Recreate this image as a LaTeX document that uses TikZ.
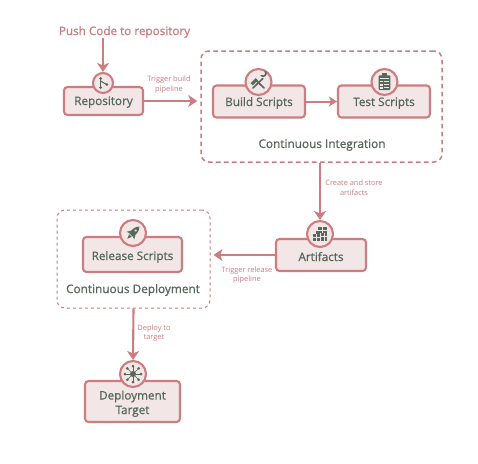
\documentclass[tikz,border=0pt]{standalone}
\usepackage{fontspec}
\setmainfont{Open Sans}
\newfontfamily\medf[FakeBold=0.8]{Open Sans}
\usetikzlibrary{arrows.meta,calc}
\definecolor{rosel}{HTML}{CB7D81}
\definecolor{rosef}{HTML}{F3E6E6}
\definecolor{greent}{HTML}{55685A}
\tikzset{
  x=1pt,y=-1pt,
  card/.style={draw=rosel,line width=2.1pt,fill=rosef,rounded corners=3.5pt,text=greent,align=center,inner sep=0pt,text height=8pt,text depth=0pt,font=\medf\fontsize{11.7}{14.5}\selectfont},
  badge/.style={circle,draw=rosel,line width=2.1pt,fill=rosef,inner sep=0pt},
  groupa/.style={draw=rosel,line width=1.5pt,dash pattern=on 4.6pt off 3.4pt,rounded corners=8pt,inner sep=0pt},
  groupb/.style={draw=rosel,line width=1pt,dash pattern=on 3pt off 3pt,rounded corners=8pt,inner sep=0pt},
  flow/.style={draw=rosel,line width=2.1pt,-{Stealth[length=9pt,width=12pt,inset=2.5pt]}},
  flowsmall/.style={draw=rosel,line width=2pt,-{Stealth[length=8pt,width=10pt,inset=2pt]}},
  note/.style={text=rosel,align=center,inner sep=0pt,font=\fontsize{7.4}{9.6}\selectfont},
  title/.style={text=greent,inner sep=0pt,font=\medf\fontsize{11.8}{14}\selectfont},
  icol/.style={draw=greent,line width=1pt,line cap=round},
  icow/.style={draw=rosef,line width=0.5pt},
}
\begin{document}
\begin{tikzpicture}
\useasboundingbox[fill=white] (0,0) rectangle (478,463);
% groups
\node[groupa,minimum width=241pt,minimum height=111pt] (ci) at (321.5,106.5) {};
\node[groupb,minimum width=153pt,minimum height=98pt] (cd) at (133.5,259) {};
% text
\node[text=rosel,inner sep=0pt,font=\medf\fontsize{11.7}{14}\selectfont] (push) at (124.5,32) {Push Code to repository};
\node[title] (citext) at (322,145) {Continuous Integration};
\node[title] (cdtext) at (133,290) {Continuous Deployment};
% cards
\node[card,minimum width=79pt,minimum height=28pt] (repo) at (103.5,101) {Repository};
\node[card,text height=9pt,minimum width=92pt,minimum height=32pt] (build) at (259,101.5) {Build Scripts};
\node[card,text height=9pt,minimum width=92pt,minimum height=32pt] (test) at (384,101.5) {Test Scripts};
\node[card,text height=12pt,minimum width=90pt,minimum height=32pt] (art) at (321,255) {Artifacts};
\node[card,text height=11pt,minimum width=99pt,minimum height=35pt] (rel) at (132.5,254.5) {Release Scripts};
\node[card,text height=25pt,minimum width=95pt,minimum height=41pt] (dep) at (132.5,401.5) {Deployment\\Target};
% badges in front of cards
\node[badge,minimum size=20pt] (repoB) at (103,83) {};
\node[badge,minimum size=26pt] (buildB) at (258.5,82) {};
\node[badge,minimum size=26pt] (testB) at (384.5,82) {};
\node[badge,minimum size=26pt] (artB) at (320,234) {};
\node[badge,minimum size=26pt] (relB) at (133,233) {};
\node[badge,minimum size=26pt] (depB) at (133,374) {};
% connectors
\coordinate (pushEnd) at (103,38);
\draw[flow] (pushEnd) -- (repoB.north);
\draw[flow,shorten >=3pt] (repo.east) -- (repo.east -| ci.west);
\draw[flowsmall] (build.east) -- (test.west);
\draw[flow] (ci.south -| artB.north) -- (artB.north);
\draw[flow,shorten >=3pt] (art.west) -- (art.west -| cd.east);
\draw[flow] (cd.south) -- (depB.north);
% notes
\node[note] (n1) at (169,84.5) {Trigger build\\pipeline};
\node[note] (n2) at (354,187.5) {Create and store\\artifacts};
\node[note] (n3) at (247,275) {Trigger release\\pipeline};
\node[note] (n4) at (154,333) {Deploy to\\target};
% icon: branch
\begin{scope}[shift={(repoB.center)}]
  \draw[icol] (-2.5,-4) -- (-2.5,4);
  \draw[icol] (-2.5,-2) -- (3.5,1.5);
  \fill[greent] (-2.5,-4.5) circle (1.5) (-2.5,4.5) circle (1.5) (3.8,1.5) circle (1.5);
\end{scope}
% icon: tools
\begin{scope}[shift={(buildB.center)},scale=.85]
  \draw[greent,line width=1.7pt,line cap=round] (-6.5,7) -- (5,-4);
  \draw[greent,line width=1.7pt,line cap=round] (6.5,7) -- (-3,-2);
  \fill[greent,rotate=45] (-7.5,-5.5) rectangle (1,-2);
  \draw[greent,line width=1.6pt,line cap=round] (3.2,-7.5) arc (130:-40:3.4);
\end{scope}
% icon: clipboard
\begin{scope}[shift={(testB.center)},scale=.9]
  \fill[greent,rounded corners=1pt] (-6.5,-7.5) rectangle (6.5,9);
  \fill[greent] (-3,-10) rectangle (3,-6);
  \fill[rosef] (-4.5,-4.5) rectangle (4.5,-3.7);
  \foreach \yy in {-1.5,2,5.5}{
    \fill[rosef] (-4.5,\yy) rectangle (-2.2,\yy+2);
    \fill[rosef] (-0.8,\yy+.4) rectangle (4.5,\yy+1.5);
  }
\end{scope}
% icon: bricks
\begin{scope}[shift={(artB.center)},scale=.88]
  \fill[greent] (-2.5,-8) rectangle (8.5,-1.5);
  \fill[greent] (1,-1.5) rectangle (8.5,7.5);
  \fill[greent] (-8.5,0) rectangle (0,7.5);
  \fill[greent] (-5,-3.5) rectangle (0,0);
  \draw[icow] (-2.5,-4.8) -- (8.5,-4.8) (3,-8) -- (3,-1.5) (1,3) -- (8.5,3) (-8.5,3.6) -- (0,3.6) (-4,0) -- (-4,7.5) (5,-1.5) -- (5,7.5);
\end{scope}
% icon: rocket
\begin{scope}[shift={(relB.center)},rotate=-45,yscale=-1,xscale=1,scale=.9]
  \fill[greent] (0,10) .. controls (3.6,7) and (3.6,2) .. (3,-3) -- (-3,-3) .. controls (-3.6,2) and (-3.6,7) .. (0,10) -- cycle;
  \fill[greent] (-3,1) -- (-6,-4) -- (-3,-3) -- cycle (3,1) -- (6,-4) -- (3,-3) -- cycle;
  \fill[greent] (-2,-4) -- (2,-4) -- (0,-9) -- cycle;
  \fill[rosef] (0,4) circle (1.5);
\end{scope}
% icon: hub
\begin{scope}[shift={(depB.center)}]
  \foreach \a in {0,45,...,315}{
    \draw[greent,line width=.6pt] (0,0) -- (\a:7.5);
    \fill[greent] (\a:8) circle (1.5);
  }
  \fill[greent] (0,0) circle (3);
\end{scope}
\end{tikzpicture}
\end{document}
